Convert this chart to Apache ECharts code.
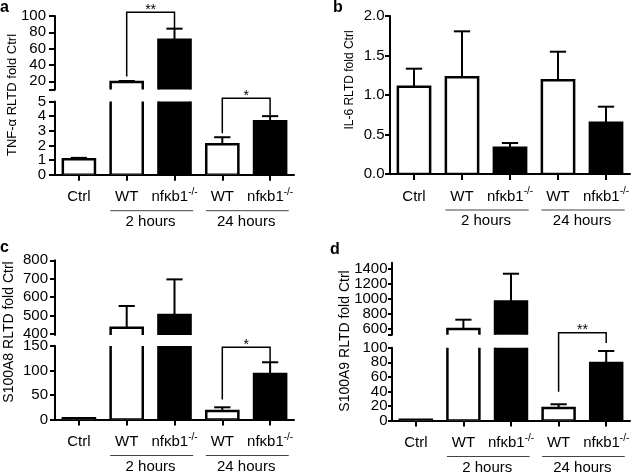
<!DOCTYPE html>
<html><head><meta charset="utf-8">
<script src="https://cdn.jsdelivr.net/npm/echarts@6/dist/echarts.min.js"></script>
<style>html,body{margin:0;padding:0;background:#fff}#c{width:640px;height:473px}</style>
</head><body><div id="c"></div>
<script>
// ---------- data ----------
const categories = ['Ctrl', 'WT', 'nfκb1', 'WT', 'nfκb1'];
const superscripts = ['', '', '-/-', '', '-/-'];
const groupLabels = ['2 hours', '24 hours'];
const groupSpans = [[1, 2], [3, 4]];

const tnfMean = [1.05, 19.2, 71, 2.08, 3.65];
const tnfSem = [0.1, 1.2, 13.5, 0.48, 0.35];
const il6Mean = [1.105, 1.224, 0.333, 1.186, 0.648];
const il6Sem = [0.228, 0.582, 0.059, 0.362, 0.204];
const s100a8Mean = [2.5, 433, 502, 17.3, 92.9];
const s100a8Sem = [0, 118, 194, 7.6, 23.9];
const s100a9Mean = [1.2, 595, 964, 17.3, 79];
const s100a9Sem = [0, 125, 369, 5, 16.5];

const tnfUpperTicks = [20, 40, 60, 80, 100];
const tnfLowerTicks = [0, 1, 2, 3, 4, 5];
const il6Ticks = [0, 0.5, 1, 1.5, 2];
const s100a8UpperTicks = [400, 500, 600, 700, 800];
const s100a8LowerTicks = [0, 50, 100, 150];
const s100a9UpperTicks = [600, 800, 1000, 1200, 1400];
const s100a9LowerTicks = [0, 20, 40, 60, 80, 100];

// significance brackets: [fromCategory, toCategory, topValue, leftLegEnd, rightLegEnd]
const tnfBrackets = [[1, 2, 104.5, 26, 85], [3, 4, 5.22, 2.83, 4.05]];
const tnfBracketMarks = ['**', '*'];
const tnfBracketSeg = [0, 1];
const s100a8Brackets = [[3, 4, 147.3, 41, 117]];
const s100a8BracketMarks = ['*'];
const s100a8BracketSeg = [1];
const s100a9Brackets = [[3, 4, 120.6, 39.5, 106.5]];
const s100a9BracketMarks = ['**'];
const s100a9BracketSeg = [1];

// ---------- styles / layout ----------
const FONT = 'Liberation Sans, Arial, sans-serif';
const barFill = ['#fff', '#fff', '#000', '#fff', '#000'];

const panels = [
  { mean: tnfMean, sem: tnfSem, brackets: tnfBrackets, marks: tnfBracketMarks, bseg: tnfBracketSeg, dec: 0, margin: 9, tick: 6,
    segs: [
      { grid: { left: 55, top: 16, width: 239, height: 73.5 }, min: 10, max: 100, labels: tnfUpperTicks, ticks: [10].concat(tnfUpperTicks) },
      { grid: { left: 55, top: 101.5, width: 239, height: 73.2 }, min: 0, max: 5, labels: tnfLowerTicks, ticks: tnfLowerTicks }
    ] },
  { mean: il6Mean, sem: il6Sem, brackets: [], marks: [], bseg: [], dec: 1, margin: 5.5, tick: 5,
    segs: [
      { grid: { left: 390, top: 16, width: 240, height: 158 }, min: 0, max: 2, labels: il6Ticks, ticks: il6Ticks }
    ] },
  { mean: s100a8Mean, sem: s100a8Sem, brackets: s100a8Brackets, marks: s100a8BracketMarks, bseg: s100a8BracketSeg, dec: 0, margin: 7, tick: 5,
    segs: [
      { grid: { left: 55, top: 260.3, width: 239, height: 74.7 }, min: 393, max: 800, labels: s100a8UpperTicks, ticks: s100a8UpperTicks },
      { grid: { left: 55, top: 346, width: 239, height: 73.5 }, min: 0, max: 150, labels: s100a8LowerTicks, ticks: s100a8LowerTicks }
    ] },
  { mean: s100a9Mean, sem: s100a9Sem, brackets: s100a9Brackets, marks: s100a9BracketMarks, bseg: s100a9BracketSeg, dec: 0, margin: 4.5, tick: 4,
    segs: [
      { grid: { left: 392, top: 262.7, width: 238, height: 72 }, min: 520, max: 1480, labels: s100a9UpperTicks, ticks: [520].concat(s100a9UpperTicks) },
      { grid: { left: 392, top: 347.7, width: 238, height: 72.8 }, min: 0, max: 100, labels: s100a9LowerTicks, ticks: s100a9LowerTicks }
    ] }
];

const grids = [], xAxes = [], yAxes = [], series = [];
let gi = 0;

panels.forEach(function (p) {
  const nSeg = p.segs.length;
  p.segs.forEach(function (s, si) {
    const isBottom = si === nSeg - 1;
    grids.push(Object.assign({ containLabel: false }, s.grid));
    xAxes.push({
      type: 'category', gridIndex: gi, data: categories, show: isBottom,
      axisLine: { show: true, onZero: false, lineStyle: { color: '#000', width: 2 } },
      axisTick: { show: true, alignWithLabel: true, length: 6, lineStyle: { color: '#000', width: 2 } },
      axisLabel: {
        interval: 0, margin: 12.5, color: '#000',
        formatter: function (v, i) {
          return superscripts[i] ? '{m|' + v + '}{s|' + superscripts[i] + '}' : '{m|' + v + '}';
        },
        rich: {
          m: { fontSize: 15, lineHeight: 20, fontFamily: FONT, color: '#000' },
          s: { fontSize: 10, lineHeight: 12, fontFamily: FONT, color: '#000', verticalAlign: 'top' }
        }
      },
      splitLine: { show: false }
    });
    const dec = p.dec;
    const fmt = function (v) { return dec ? Number(v).toFixed(dec) : String(v); };
    const yIndex = yAxes.length;
    // main axis: line, ticks and every other tick label
    yAxes.push({
      type: 'value', gridIndex: gi, min: s.min, max: s.max,
      axisLine: { show: true, lineStyle: { color: '#000', width: 2 } },
      axisTick: { show: true, length: p.tick, lineStyle: { color: '#000', width: 2 }, customValues: s.ticks },
      axisLabel: { customValues: s.labels.filter(function (v, k) { return k % 2 === 0; }), hideOverlap: false,
        showMinLabel: true, showMaxLabel: true,
        margin: p.margin, color: '#000', fontSize: 15, fontFamily: FONT, formatter: fmt },
      splitLine: { show: false }
    });
    // companion axis on the same line carrying the remaining tick labels
    yAxes.push({
      type: 'value', gridIndex: gi, min: s.min, max: s.max, position: 'left', offset: 0,
      axisLine: { show: false }, axisTick: { show: false },
      axisLabel: { customValues: s.labels.filter(function (v, k) { return k % 2 === 1; }), hideOverlap: false,
        showMinLabel: true, showMaxLabel: true,
        margin: p.margin, color: '#000', fontSize: 15, fontFamily: FONT, formatter: fmt },
      splitLine: { show: false }
    });

    // bars (clipped to the segment)
    series.push({
      type: 'custom', xAxisIndex: gi, yAxisIndex: yIndex, clip: true, z: 2,
      data: p.mean.map(function (v, i) { return [i, v]; }),
      encode: { x: 0, y: 1 },
      renderItem: function (params, api) {
        const i = api.value(0);
        const top = api.coord([i, api.value(1)]);
        const base = api.coord([i, 0]);
        const w = api.size([1, 0])[0] * 0.672;
        return { type: 'rect',
          shape: { x: top[0] - w / 2, y: top[1], width: w, height: base[1] - top[1] },
          style: { fill: barFill[i], stroke: '#000', lineWidth: 2.5 } };
      }
    });

    // error bars belonging to this segment
    const lowerMax = p.segs[nSeg - 1].max;
    const errData = [];
    p.mean.forEach(function (m, i) {
      if (!p.sem[i]) return;
      const inUpper = nSeg > 1 && m > lowerMax;
      if ((nSeg === 1) || (si === 0 && inUpper) || (si === 1 && !inUpper)) errData.push([i, m, m + p.sem[i]]);
    });
    if (errData.length) {
      series.push({
        type: 'custom', xAxisIndex: gi, yAxisIndex: yIndex, clip: false, z: 3,
        data: errData, encode: { x: 0, y: [1, 2] },
        renderItem: function (params, api) {
          const i = api.value(0);
          const m = api.coord([i, api.value(1)]);
          const t = api.coord([i, api.value(2)]);
          const cw = api.size([1, 0])[0] * 0.34;
          return { type: 'group', children: [
            { type: 'line', shape: { x1: m[0], y1: m[1], x2: t[0], y2: t[1] }, style: { stroke: '#000', lineWidth: 2 } },
            { type: 'line', shape: { x1: t[0] - cw / 2, y1: t[1], x2: t[0] + cw / 2, y2: t[1] }, style: { stroke: '#000', lineWidth: 2 } }
          ] };
        }
      });
    }

    // significance brackets
    const bData = [], bMarks = [];
    p.brackets.forEach(function (b, k) { if (p.bseg[k] === si) { bData.push(b); bMarks.push(p.marks[k]); } });
    if (bData.length) {
      series.push({
        type: 'custom', xAxisIndex: gi, yAxisIndex: yIndex, clip: false, z: 4,
        data: bData, encode: { x: [0, 1], y: [2, 3, 4] },
        renderItem: function (params, api) {
          const a = api.value(0), b = api.value(1);
          const pl = api.coord([a, api.value(3)]);
          const tl = api.coord([a, api.value(2)]);
          const tr = api.coord([b, api.value(2)]);
          const pr = api.coord([b, api.value(4)]);
          return { type: 'group', children: [
            { type: 'polyline', shape: { points: [pl, tl, tr, pr] }, style: { stroke: '#000', lineWidth: 1.5, fill: null } },
            { type: 'text', x: (tl[0] + tr[0]) / 2, y: tl[1] - 2.5,
              style: { text: bMarks[params.dataIndex], fontSize: 14, fontFamily: FONT, fill: '#000', align: 'center', verticalAlign: 'middle' } }
          ] };
        }
      });
    }

    // group underlines + labels
    if (isBottom) {
      series.push({
        type: 'custom', xAxisIndex: gi, yAxisIndex: yIndex, clip: false, z: 4,
        data: groupSpans.map(function (g) { return [g[0], g[1]]; }), encode: { x: [0, 1] },
        renderItem: function (params, api) {
          const cs = params.coordSys;
          const bottom = cs.y + cs.height;
          const band = api.size([1, 0])[0];
          const x1 = api.coord([api.value(0), 0])[0] - band * 0.345;
          const x2 = api.coord([api.value(1), 0])[0] + band * 0.39;
          const mid = (api.coord([api.value(0), 0])[0] + api.coord([api.value(1), 0])[0]) / 2;
          return { type: 'group', children: [
            { type: 'line', shape: { x1: x1, y1: bottom + 36, x2: x2, y2: bottom + 36 }, style: { stroke: '#444', lineWidth: 1 } },
            { type: 'text', x: mid, y: bottom + 47,
              style: { text: groupLabels[params.dataIndex], fontSize: 15, fontFamily: FONT, fill: '#000', align: 'center', verticalAlign: 'middle' } }
          ] };
        }
      });
    }
    gi++;
  });
});

function vtext(x, y, txt, size) {
  return { type: 'text', x: x, y: y, rotation: Math.PI / 2,
    style: { text: txt, fontSize: size, fontFamily: FONT, fill: '#000', align: 'center', verticalAlign: 'middle' } };
}
function letter(x, y, txt) {
  return { type: 'text', x: x, y: y,
    style: { text: txt, fontSize: 16, fontWeight: 'bold', fontFamily: FONT, fill: '#000', align: 'left', verticalAlign: 'middle' } };
}

const chart = echarts.init(document.getElementById('c'), null, { renderer: 'canvas' });
chart.setOption({
  animation: false,
  backgroundColor: '#fff',
  grid: grids, xAxis: xAxes, yAxis: yAxes, series: series,
  graphic: [
    vtext(12, 95, 'TNF-α RLTD fold Ctrl', 13),
    vtext(350, 80, 'IL-6 RLTD fold Ctrl', 12),
    vtext(9, 332, 'S100A8 RLTD fold Ctrl', 14),
    vtext(345, 341, 'S100A9 RLTD fold Ctrl', 14),
    letter(0, 7.5, 'a'),
    letter(333, 7.5, 'b'),
    letter(0, 248, 'c'),
    letter(330, 250, 'd')
  ]
});
</script></body></html>
